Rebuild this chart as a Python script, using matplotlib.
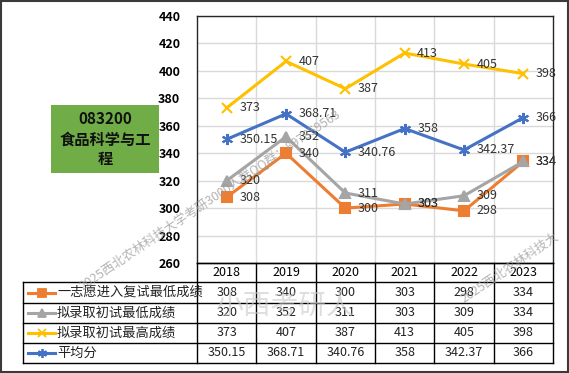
import numpy as np
import matplotlib
matplotlib.use('Agg')
from matplotlib import pyplot as plt
from matplotlib.lines import Line2D
from matplotlib.patches import Rectangle

plt.rcParams['font.family'] = ['Noto Sans CJK SC', 'DejaVu Sans']

years = ['2018', '2019', '2020', '2021', '2022', '2023']
names = ['一志愿进入复试最低成绩', '拟录取初试最低成绩', '拟录取初试最高成绩', '平均分']
first_min = [308, 340, 300, 303, 298, 334]
admit_min = [320, 352, 311, 303, 309, 334]
admit_max = [373, 407, 387, 413, 405, 398]
average = [350.15, 368.71, 340.76, 358, 342.37, 366]
series = [first_min, admit_min, admit_max, average]
colors = ['#ED7D31', '#A5A5A5', '#FFC000', '#4472C4']
markers = ['s', '^', 'x', (6, 2, 0)]
msizes = [7, 7, 7, 8]

W, H = 569, 373
fig = plt.figure(figsize=(W / 100, H / 100), dpi=100)

def fx(px):
    return px / W

def fy(py):
    return 1 - py / H

# plot area in pixels
L, R, T, B = 197, 553, 16, 263
ax = fig.add_axes([fx(L), fy(B), fx(R - L), (B - T) / H])
x = np.arange(len(years))
for vals, c, m, ms in zip(series, colors, markers, msizes):
    ax.plot(x, vals, color=c, lw=2.2, marker=m, ms=ms, mew=1.5, zorder=3)
    for xi, v in zip(x, vals):
        ax.annotate(f'{v:g}', (xi, v), xytext=(9, 0), textcoords='offset points',
                    va='center', ha='left', fontsize=9, color='#333333', zorder=4)

ax.set_xlim(-0.5, len(years) - 0.5)
ax.set_ylim(260, 440)
ax.set_yticks(np.arange(260, 441, 20))
ax.set_xticks(np.arange(0.5, len(years) - 0.5, 1), minor=True)
ax.set_xticks([])
ax.grid(True, which='major', axis='y', color='#D9D9D9', lw=1)
ax.grid(True, which='minor', axis='x', color='#D9D9D9', lw=1)
ax.tick_params(axis='y', length=0, pad=12, labelsize=9)
ax.tick_params(axis='x', which='both', length=0)
for lab in ax.get_yticklabels():
    lab.set_fontweight('bold')
for s in ax.spines.values():
    s.set_color('#262626')
    s.set_linewidth(1)

# data table under the plot
col_w = (R - L) / len(years)
rows = [B, 282, 303, 323, 343, 363]
tl = 23
lk = dict(color='black', lw=1, transform=fig.transFigure)
for i, yv in enumerate(rows):
    x0 = L if i == 0 else tl
    fig.add_artist(Line2D([fx(x0), fx(R)], [fy(yv), fy(yv)], **lk))
fig.add_artist(Line2D([fx(tl), fx(tl)], [fy(rows[1]), fy(rows[-1])], **lk))
for j in range(len(years) + 1):
    xv = L + j * col_w
    fig.add_artist(Line2D([fx(xv), fx(xv)], [fy(B), fy(rows[-1])], **lk))
for j, yr in enumerate(years):
    fig.text(fx(L + (j + 0.5) * col_w), fy((rows[0] + rows[1]) / 2), yr,
             ha='center', va='center', fontsize=9)
for i, (nm, vals, c, m, ms) in enumerate(zip(names, series, colors, markers, msizes)):
    yc = fy((rows[i + 1] + rows[i + 2]) / 2)
    fig.add_artist(Line2D([fx(28), fx(55)], [yc, yc], color=c, lw=2.2,
                          transform=fig.transFigure))
    fig.add_artist(Line2D([fx(41.5)], [yc], color=c, marker=m, ms=ms - 1.5, mew=1.3,
                          transform=fig.transFigure))
    fig.text(fx(57), yc, nm, ha='left', va='center', fontsize=9.5, color='#222222')
    for j, v in enumerate(vals):
        fig.text(fx(L + (j + 0.5) * col_w), yc, f'{v:g}', ha='center', va='center',
                 fontsize=9, color='#222222')

# green title box
fig.add_artist(Rectangle((fx(51), fy(173)), fx(108), (173 - 105) / H,
                         facecolor='#70AD47', edgecolor='none', transform=fig.transFigure))
fig.text(fx(105), fy(119), '083200', ha='center', va='center', fontsize=11,
         fontweight='bold', color='#111111')
fig.text(fx(105), fy(132), '食品科学与工\n程', ha='center', va='top', fontsize=11,
         fontweight='bold', color='#111111', linespacing=1.25)

# watermarks
fig.text(fx(210), fy(200), '2025西北农林科技大学考研3000人群QQ群：897859563',
         rotation=34, ha='center', va='center', fontsize=9, color='#9A9A9A', alpha=0.75)
fig.text(fx(462), fy(300), '2025西北农林科技大', rotation=34, rotation_mode='anchor',
         ha='left', va='center', fontsize=9, color='#9A9A9A', alpha=0.75)
fig.text(fx(285), fy(306), '小西考研人', ha='center', va='center', fontsize=20,
         color='#C8C8C8', alpha=0.6)

# outer frame
fig.add_artist(Rectangle((0.002, 0.004), 0.996, 0.993, fill=False, edgecolor='#3A3A3A',
                         lw=1.5, transform=fig.transFigure))

fig.savefig('out.png', dpi=100)
